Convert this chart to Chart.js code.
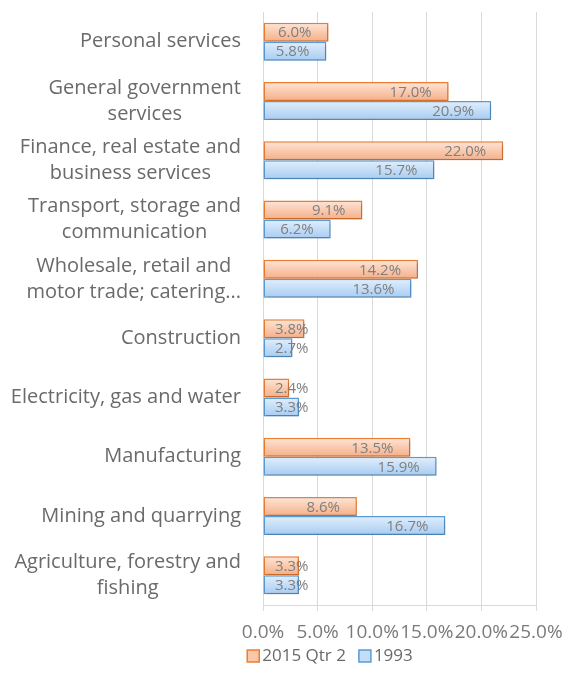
<!DOCTYPE html>
<html>
<head>
<meta charset="utf-8">
<script src="https://cdn.jsdelivr.net/npm/chart.js@4/dist/chart.umd.min.js"></script>
<style>
  html, body { margin: 0; padding: 0; background: #fff; }
  #wrap { width: 566px; height: 693px; position: relative; }
</style>
</head>
<body>
<div id="wrap"><canvas id="chart"></canvas></div>
<script>
"use strict";

// Sectors, top to bottom
const sectors = [
  'Personal services',
  ['General government', 'services'],
  ['Finance, real estate and', 'business services'],
  ['Transport, storage and', 'communication'],
  ['Wholesale, retail and', 'motor trade; catering...'],
  'Construction',
  'Electricity, gas and water',
  'Manufacturing',
  'Mining and quarrying',
  ['Agriculture, forestry and', 'fishing'],
];

// Share of GDP (%)
const share2015 = [6.0, 17.0, 22.0, 9.1, 14.2, 3.8, 2.4, 13.5, 8.6, 3.3];
const share1993 = [5.8, 20.9, 15.7, 6.2, 13.6, 2.7, 3.3, 15.9, 16.7, 3.3];

const xTicks = [0, 5, 10, 15, 20, 25];

const FONT = "'Open Sans', Lato, sans-serif";
const CAT_PCT = 0.64;

const palette = {
  orange: { border: '#ed7d31', top: '#fde6d8', bottom: '#f6ae86', legend: '#f9c7a9' },
  blue: { border: '#5b9bd5', top: '#e2effc', bottom: '#a6ccf2', legend: '#c3ddf7' },
  text: '#6a6a6a',
  tick: '#7a7a7a',
  label: '#7f7f7f',
  grid: '#d9d9d9',
};

// Vertical gradient spanning one bar, located through the category scale
function barFill(ctx, col) {
  const chart = ctx.chart;
  const y = chart.scales.y;
  if (!y || ctx.dataIndex === undefined || !chart.chartArea) return col.legend;
  const center = y.getPixelForValue(ctx.dataIndex);
  const barH = (y.height / sectors.length) * CAT_PCT / 2;
  const top = ctx.datasetIndex === 0 ? center - barH : center;
  const g = chart.ctx.createLinearGradient(0, top, 0, top + barH);
  g.addColorStop(0, col.top);
  g.addColorStop(1, col.bottom);
  return g;
}

// Value labels at the inside end of each bar
const valueLabels = {
  id: 'valueLabels',
  afterDatasetsDraw(chart) {
    const ctx = chart.ctx;
    const base = chart.scales.x.getPixelForValue(0);
    ctx.save();
    ctx.font = '15px ' + FONT;
    ctx.fillStyle = palette.label;
    ctx.textAlign = 'right';
    ctx.textBaseline = 'middle';
    chart.data.datasets.forEach((ds, di) => {
      chart.getDatasetMeta(di).data.forEach((bar, i) => {
        const text = ds.data[i].toFixed(1) + '%';
        const w = ctx.measureText(text).width;
        const right = Math.max(bar.x - 17, base + 12 + w);
        ctx.fillText(text, right, bar.y + 1);
      });
    });
    ctx.restore();
  },
};

// Category names: block right-aligned to the axis, lines centred within it
const sectorLabels = {
  id: 'sectorLabels',
  afterDraw(chart) {
    const ctx = chart.ctx;
    const y = chart.scales.y;
    const right = chart.chartArea.left - 22;
    const lineH = 26;
    ctx.save();
    ctx.font = '20px ' + FONT;
    ctx.fillStyle = palette.text;
    ctx.textAlign = 'center';
    ctx.textBaseline = 'middle';
    sectors.forEach((s, i) => {
      const lines = Array.isArray(s) ? s : [s];
      const maxW = Math.max(...lines.map(l => ctx.measureText(l).width));
      const cx = right - maxW / 2;
      const cy = y.getPixelForValue(i);
      const y0 = cy - (lines.length - 1) * lineH / 2;
      lines.forEach((l, k) => ctx.fillText(l, cx, y0 + k * lineH));
    });
    ctx.restore();
  },
};

// Legend row under the axis: outlined swatch, then series name
const legendRow = {
  id: 'legendRow',
  afterDraw(chart) {
    const ctx = chart.ctx;
    const items = chart.data.datasets.map((ds, i) => ({
      text: ds.label,
      fill: i === 0 ? palette.orange.legend : palette.blue.legend,
      stroke: ds.borderColor,
    }));
    const box = 12, gap = 3, spacing = 13;
    ctx.save();
    ctx.font = '17px ' + FONT;
    ctx.textBaseline = 'middle';
    ctx.textAlign = 'left';
    const widths = items.map(it => box + gap + ctx.measureText(it.text).width);
    const total = widths.reduce((a, b) => a + b, 0) + spacing * (items.length - 1);
    let x = 330 - total / 2;
    const cy = 656;
    items.forEach((it, i) => {
      ctx.fillStyle = it.fill;
      ctx.fillRect(x, cy - box / 2, box, box);
      ctx.strokeStyle = it.stroke;
      ctx.lineWidth = 1.5;
      ctx.strokeRect(x, cy - box / 2, box, box);
      ctx.fillStyle = palette.text;
      ctx.fillText(it.text, x + box + gap, cy);
      x += widths[i] + spacing;
    });
    ctx.restore();
  },
};

// Soft drop shadow under the bars
const barShadow = {
  id: 'barShadow',
  beforeDatasetsDraw(chart) {
    const ctx = chart.ctx;
    ctx.save();
    ctx.shadowColor = 'rgba(0,0,0,0.22)';
    ctx.shadowBlur = 3;
    ctx.shadowOffsetX = 1;
    ctx.shadowOffsetY = 2;
  },
  afterDatasetsDraw(chart) {
    chart.ctx.restore();
  },
};

new Chart(document.getElementById('chart'), {
  type: 'bar',
  data: {
    labels: sectors,
    datasets: [
      {
        label: '2015 Qtr 2',
        data: share2015,
        backgroundColor: ctx => barFill(ctx, palette.orange),
        borderColor: palette.orange.border,
        borderWidth: 1.5,
        borderSkipped: false,
        categoryPercentage: CAT_PCT,
        barPercentage: 1,
      },
      {
        label: '1993',
        data: share1993,
        backgroundColor: ctx => barFill(ctx, palette.blue),
        borderColor: palette.blue.border,
        borderWidth: 1.5,
        borderSkipped: false,
        categoryPercentage: CAT_PCT,
        barPercentage: 1,
      },
    ],
  },
  options: {
    indexAxis: 'y',
    responsive: true,
    maintainAspectRatio: false,
    animation: false,
    devicePixelRatio: 1,
    layout: { padding: { top: 12, right: 0, left: 0, bottom: 48 } },
    plugins: {
      tooltip: { enabled: false },
      legend: { display: false },
    },
    scales: {
      x: {
        min: 0,
        max: 25,
        afterBuildTicks: scale => { scale.ticks = xTicks.map(v => ({ value: v })); },
        afterFit: scale => {
          scale.height = 40;
          scale.paddingRight = 30;
        },
        grid: { color: palette.grid, tickColor: palette.grid, tickLength: 6 },
        border: { color: palette.grid },
        ticks: {
          autoSkip: false,
          maxRotation: 0,
          padding: 10,
          color: palette.tick,
          font: { family: FONT, size: 19 },
          callback: v => v.toFixed(1) + '%',
        },
      },
      y: {
        afterFit: scale => { scale.width = 263; },
        grid: { display: false },
        border: { color: palette.grid },
        ticks: { display: false },
      },
    },
  },
  plugins: [barShadow, valueLabels, sectorLabels, legendRow],
});
</script>
</body>
</html>
